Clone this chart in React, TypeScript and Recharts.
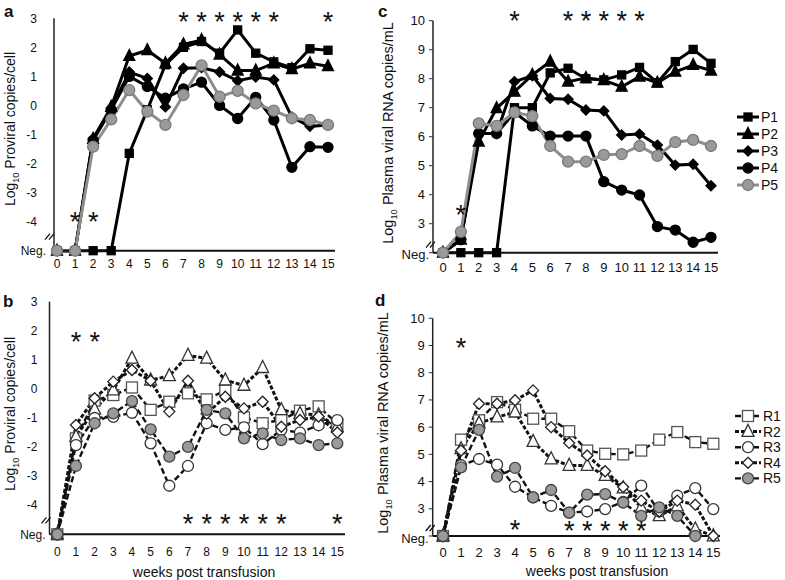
import React from "react";
import { ComposedChart, Line, XAxis, YAxis, ReferenceDot } from "recharts";

const FONT = '"Liberation Sans", Arial, Helvetica, sans-serif';

const WEEKS = [0, 1, 2, 3, 4, 5, 6, 7, 8, 9, 10, 11, 12, 13, 14, 15];
const NEG_PRO = -5; // where "Neg." sits on the proviral axes
const NEG_RNA = 2; // where "Neg." sits on the plasma RNA axes
const PRO_TICKS = [-5, -4, -3, -2, -1, 0, 1, 2, 3];
const RNA_TICKS = [2, 3, 4, 5, 6, 7, 8, 9, 10];

const N = NEG_PRO;
const M = NEG_RNA;

// panel a: proviral load, P animals
const P1_PRO = [N, N, N, N, -1.65, -0.15, 1.4, 2.0, 2.2, 1.8, 2.6, 1.8, 1.5, 1.3, 1.95, 1.9];
const P2_PRO = [N, N, -1.15, -0.05, 1.7, 1.9, 1.45, 2.1, 2.25, 1.75, 1.2, 1.2, 1.45, 1.25, 1.45, 1.35];
const P3_PRO = [N, N, -1.15, -0.1, 1.15, 0.93, -0.05, 1.28, 1.3, 1.15, 0.85, 0.98, 0.88, -0.4, -0.72, -0.67];
const P4_PRO = [N, N, -1.2, -0.15, 1.0, 0.65, 0.25, 0.57, 0.8, 0.0, -0.45, 0.28, -0.5, -2.13, -1.42, -1.44];
const P5_PRO = [N, N, -1.42, -0.48, 0.53, -0.21, -0.67, 0.36, 1.38, 0.3, 0.5, 0.07, -0.18, -0.44, -0.5, -0.67];

// panel c: plasma viral RNA, P animals
const P1_RNA = [M, M, M, M, 7.0, 7.0, 8.2, 8.36, 8.0, 7.96, 8.13, 8.39, 7.86, 8.59, 9.01, 8.53];
const P2_RNA = [M, 2.45, 5.83, 6.98, 7.55, 8.13, 8.59, 7.9, 8.02, 7.95, 7.72, 8.07, 7.86, 8.24, 8.47, 8.28];
const P3_RNA = [M, 2.45, 6.11, 6.11, 7.9, 8.1, 7.32, 7.29, 6.92, 6.89, 6.06, 6.09, 5.71, 5.02, 5.05, 4.31];
const P4_RNA = [M, 2.45, 6.11, 6.11, 6.84, 6.37, 6.02, 6.02, 6.02, 4.45, 4.16, 3.99, 2.9, 2.78, 2.36, 2.53];
const P5_RNA = [M, 2.72, 6.46, 6.37, 6.84, 6.71, 5.68, 5.14, 5.14, 5.37, 5.4, 5.68, 5.34, 5.81, 5.89, 5.68];

// panel b: proviral load, R animals
const R1_PRO = [N, -1.7, -0.4, -0.21, 0.05, -0.72, -0.44, -0.15, -0.36, -0.05, -0.98, -1.18, -1.07, -0.75, -0.6, -1.2];
const R2_PRO = [N, -1.64, -0.7, -0.04, 1.05, 0.3, 0.45, 1.15, 1.05, 0.3, 0.12, 0.73, -0.72, -0.85, -0.9, -1.3];
const R3_PRO = [N, -1.93, -1.0, -0.96, -0.82, -1.87, -3.33, -2.65, -1.18, -1.41, -1.32, -1.9, -1.41, -1.5, -1.25, -1.07];
const R4_PRO = [N, -1.24, -0.32, 0.25, 0.65, 0.28, -0.78, 0.28, -0.85, -0.27, -0.67, -0.44, -1.3, -1.07, -0.95, -1.5];
const R5_PRO = [N, -2.65, -1.18, -0.84, -0.42, -1.39, -2.33, -1.99, -0.72, -0.84, -1.7, -1.53, -1.76, -1.7, -1.93, -1.87];

// panel d: plasma viral RNA, R animals
const R1_RNA = [M, 5.54, 6.25, 6.92, 6.64, 6.31, 6.31, 5.85, 5.14, 5.02, 5.0, 5.14, 5.54, 5.82, 5.45, 5.39];
const R2_RNA = [M, 5.2, 6.15, 6.37, 6.55, 5.47, 4.83, 4.59, 4.59, 4.22, 3.76, 3.05, 2.74, 3.1, 2.25, M];
const R3_RNA = [M, 4.6, 4.83, 4.62, 3.81, 3.42, 3.11, 2.86, 2.9, 2.99, 3.25, 3.85, 2.9, 3.48, 3.76, 2.99];
const R4_RNA = [M, 5.14, 6.86, 6.86, 6.99, 7.35, 6.0, 5.42, 4.96, 4.38, 3.8, 3.3, 2.9, 3.3, 3.15, M];
const R5_RNA = [M, 4.52, 5.9, 4.18, 4.5, 3.42, 3.69, 2.86, 3.52, 3.54, 3.23, 2.74, 3.05, 2.74, M, null];

// significance asterisks: [week, height on the panel's axis]
const STARS_A: [number, number][] = [[1, -3.82], [2, -3.82], [7, 3.08], [8, 3.08], [9, 3.08], [10, 3.08], [11, 3.08], [12, 3.08], [15, 3.08]];
const STARS_C: [number, number][] = [[1, 3.5], [4, 10.2], [7, 10.2], [8, 10.2], [9, 10.2], [10, 10.2], [11, 10.2]];
const STARS_B: [number, number][] = [[1, 1.8], [2, 1.8], [7, -4.45], [8, -4.45], [9, -4.45], [10, -4.45], [11, -4.45], [12, -4.45], [15, -4.45]];
const STARS_D: [number, number][] = [[1, 9.14], [4, 2.44], [7, 2.4], [8, 2.4], [9, 2.4], [10, 2.4], [11, 2.4]];

type Shape = "square" | "triangle" | "diamond" | "circle";
type SeriesStyle = {
  name: string;
  shape: Shape;
  size: number;
  fill: string;
  stroke: string;
  line: string;
  width: number;
  dash?: string;
};

const P_STYLES: SeriesStyle[] = [
  { name: "P1", shape: "square", size: 8, fill: "#000", stroke: "#000", line: "#000", width: 3 },
  { name: "P2", shape: "triangle", size: 11, fill: "#000", stroke: "#000", line: "#000", width: 3 },
  { name: "P3", shape: "diamond", size: 10, fill: "#000", stroke: "#000", line: "#000", width: 3 },
  { name: "P4", shape: "circle", size: 10, fill: "#000", stroke: "#000", line: "#000", width: 3 },
  { name: "P5", shape: "circle", size: 11, fill: "#9a9a9a", stroke: "#7a7a7a", line: "#8e8e8e", width: 3 },
];

const R_STYLES: SeriesStyle[] = [
  { name: "R1", shape: "square", size: 11, fill: "#fff", stroke: "#555", line: "#111", width: 2.4, dash: "6 3" },
  { name: "R2", shape: "triangle", size: 12, fill: "#fff", stroke: "#333", line: "#111", width: 3, dash: "4 2" },
  { name: "R3", shape: "circle", size: 11, fill: "#fff", stroke: "#333", line: "#111", width: 2.4, dash: "6 3" },
  { name: "R4", shape: "diamond", size: 11, fill: "#fff", stroke: "#222", line: "#111", width: 3, dash: "4 2" },
  { name: "R5", shape: "circle", size: 11, fill: "#9a9a9a", stroke: "#444", line: "#111", width: 2.4, dash: "6 3" },
];

function buildRows(series: (number | null)[][]) {
  return WEEKS.map((w, i) => {
    const row: Record<string, number | null> = { w };
    series.forEach((s, k) => {
      row["s" + k] = s[i];
    });
    return row;
  });
}

function Marker({ cx, cy, st }: { cx: number; cy: number; st: SeriesStyle }) {
  const s = st.size;
  const common = { fill: st.fill, stroke: st.stroke, strokeWidth: 1.3 };
  if (st.shape === "square") return <rect x={cx - s / 2} y={cy - s / 2} width={s} height={s} {...common} />;
  if (st.shape === "triangle")
    return (
      <polygon
        points={`${cx},${cy - s * 0.6} ${cx - s / 2},${cy + s * 0.4} ${cx + s / 2},${cy + s * 0.4}`}
        {...common}
      />
    );
  if (st.shape === "diamond")
    return <polygon points={`${cx},${cy - s / 2} ${cx + s / 2},${cy} ${cx},${cy + s / 2} ${cx - s / 2},${cy}`} {...common} />;
  return <circle cx={cx} cy={cy} r={s / 2} {...common} />;
}

type PanelProps = {
  left: number;
  top: number;
  width: number;
  height: number;
  axisX: number;
  plotTop: number;
  plotBottom: number;
  plotRight: number;
  x0: number;
  x15: number;
  neg: number;
  yTicks: number[];
  series: (number | null)[][];
  styles: SeriesStyle[];
  stars: [number, number][];
  tickFont: number;
  xTickMargin: number;
  yTickSize: number;
  numGap: number;
  negGap: number;
  negDy: number;
  breakUp: number;
  breakShift: number;
};

const STAR_SIZE = 27;

function Panel(p: PanelProps) {
  const rows = buildRows(p.series);
  const perWeek = (p.x15 - p.x0) / 15;
  const xDomain = [(p.axisX - p.x0) / perWeek, 15 + (p.plotRight - p.x15) / perWeek];
  const yAxisWidth = p.axisX - p.left;
  const mTop = p.plotTop - p.top;
  const mRight = p.left + p.width - p.plotRight;
  const xAxisHeight = p.top + p.height - p.plotBottom;

  const yTick = (t: any) => {
    const v = t.payload.value;
    const axisX = t.x + p.yTickSize;
    if (v === p.neg) {
      const by = t.y - p.breakUp;
      const bx = axisX + p.breakShift;
      return (
        <g>
          <text x={t.x - p.negGap} y={t.y + p.negDy} dy="0.35em" textAnchor="end" fontSize={p.tickFont} fontFamily={FONT} fill="#111">
            Neg.
          </text>
          <line x1={bx - 7} y1={by + 3} x2={bx - 2} y2={by - 3} stroke="#111" strokeWidth={1.3} />
          <line x1={bx - 3} y1={by + 3} x2={bx + 2} y2={by - 3} stroke="#111" strokeWidth={1.3} />
        </g>
      );
    }
    return (
      <text x={t.x - p.numGap} y={t.y} dy="0.35em" textAnchor="end" fontSize={p.tickFont} fontFamily={FONT} fill="#111">
        {v}
      </text>
    );
  };

  return (
    <div style={{ position: "absolute", left: p.left, top: p.top }}>
      <ComposedChart
        width={p.width}
        height={p.height}
        data={rows}
        margin={{ top: mTop, right: mRight, left: 0, bottom: 0 }}
      >
        <XAxis
          dataKey="w"
          type="number"
          domain={xDomain}
          ticks={WEEKS}
          interval={0}
          height={xAxisHeight}
          tickLine={false}
          tickSize={0}
          tickMargin={p.xTickMargin}
          axisLine={{ stroke: "#111", strokeWidth: 2 }}
          tick={{ fontSize: p.tickFont, fontFamily: FONT, fill: "#111" }}
        />
        <YAxis
          type="number"
          domain={[p.yTicks[0], p.yTicks[p.yTicks.length - 1]]}
          ticks={p.yTicks}
          interval={0}
          width={yAxisWidth}
          tickSize={p.yTickSize}
          tickMargin={0}
          tickLine={p.yTickSize > 0 ? { stroke: "#333", strokeWidth: 1 } : false}
          axisLine={{ stroke: "#222", strokeWidth: 1.5 }}
          tick={yTick}
        />
        {p.styles.map((st, k) => (
          <Line
            key={st.name}
            dataKey={"s" + k}
            name={st.name}
            type="linear"
            stroke={st.line}
            strokeWidth={st.width}
            strokeDasharray={st.dash}
            connectNulls={false}
            isAnimationActive={false}
            activeDot={false}
            dot={(d: any) =>
              d.cx == null || d.cy == null || d.value == null ? (
                <g key={st.name + d.index} />
              ) : (
                <g key={st.name + d.index}>
                  <Marker cx={d.cx} cy={d.cy} st={st} />
                </g>
              )
            }
          />
        ))}
        {p.stars.map(([w, v], i) => (
          <ReferenceDot
            key={"star" + i}
            x={w}
            y={v}
            r={0}
            ifOverflow="visible"
            shape={(d: any) => (
              <text x={d.cx} y={d.cy + STAR_SIZE * 0.55} textAnchor="middle" fontSize={STAR_SIZE} fontFamily={FONT} fill="#111">
                *
              </text>
            )}
          />
        ))}
      </ComposedChart>
    </div>
  );
}

function Legend({ left, top, gap, styles, lineW }: { left: number; top: number; gap: number; styles: SeriesStyle[]; lineW: number }) {
  return (
    <svg style={{ position: "absolute", left, top }} width={60} height={gap * styles.length + 10}>
      {styles.map((st, i) => {
        const y = 8 + i * gap;
        return (
          <g key={st.name}>
            <line x1={2} x2={2 + lineW} y1={y} y2={y} stroke={st.line} strokeWidth={st.width} strokeDasharray={st.dash} />
            <Marker cx={2 + lineW / 2} cy={y} st={st} />
            <text x={lineW + 4} y={y} dy="0.35em" fontSize={14} fontFamily={FONT} fill="#111">
              {st.name}
            </text>
          </g>
        );
      })}
    </svg>
  );
}

function YTitle({ x, y, rest, size }: { x: number; y: number; rest: string; size: number }) {
  return (
    <text transform={`translate(${x},${y}) rotate(-90)`} textAnchor="middle" fontSize={size} fontFamily={FONT} fill="#111">
      Log
      <tspan fontSize={size * 0.65} dy={4}>
        10
      </tspan>
      <tspan dy={-4}>{rest}</tspan>
    </text>
  );
}

export default function App() {
  return (
    <div style={{ position: "absolute", left: 0, top: 0, width: 785, height: 580, background: "#fff", fontFamily: FONT }}>
      <Panel
        left={0} top={0} width={345} height={290}
        axisX={54} plotTop={18.3} plotBottom={250.7} plotRight={335} x0={57} x15={328}
        neg={NEG_PRO} yTicks={PRO_TICKS}
        series={[P1_PRO, P2_PRO, P3_PRO, P4_PRO, P5_PRO]} styles={P_STYLES} stars={STARS_A}
        tickFont={12} xTickMargin={8.4} yTickSize={0} numGap={17} negGap={8} negDy={0} breakUp={14} breakShift={-2}
      />
      <Panel
        left={380} top={0} width={348} height={290}
        axisX={433} plotTop={20.7} plotBottom={252.7} plotRight={718} x0={443} x15={711}
        neg={NEG_RNA} yTicks={RNA_TICKS}
        series={[P1_RNA, P2_RNA, P3_RNA, P4_RNA, P5_RNA]} styles={P_STYLES} stars={STARS_C}
        tickFont={13} xTickMargin={9.8} yTickSize={4} numGap={4} negGap={0} negDy={2} breakUp={8} breakShift={0}
      />
      <Panel
        left={0} top={290} width={355} height={290}
        axisX={49.5} plotTop={301.7} plotBottom={534.3} plotRight={345} x0={57.3} x15={337.3}
        neg={NEG_PRO} yTicks={PRO_TICKS}
        series={[R1_PRO, R2_PRO, R3_PRO, R4_PRO, R5_PRO]} styles={R_STYLES} stars={STARS_B}
        tickFont={12} xTickMargin={13} yTickSize={0} numGap={12} negGap={4} negDy={0} breakUp={14} breakShift={-1}
      />
      <Panel
        left={380} top={290} width={350} height={290}
        axisX={432.7} plotTop={318.3} plotBottom={536} plotRight={720} x0={443} x15={713.3}
        neg={NEG_RNA} yTicks={RNA_TICKS}
        series={[R1_RNA, R2_RNA, R3_RNA, R4_RNA, R5_RNA]} styles={R_STYLES} stars={STARS_D}
        tickFont={13} xTickMargin={11.5} yTickSize={4} numGap={4} negGap={0} negDy={2} breakUp={8} breakShift={0}
      />
      <Legend left={735} top={109} gap={17} styles={P_STYLES} lineW={22} />
      <Legend left={733} top={408} gap={15.6} styles={R_STYLES} lineW={26} />
      <svg style={{ position: "absolute", left: 0, top: 0, pointerEvents: "none" }} width={785} height={580}>
        <text x={4} y={17} fontSize={17} fontWeight="bold" fontFamily={FONT} fill="#111">a</text>
        <text x={378} y={17} fontSize={17} fontWeight="bold" fontFamily={FONT} fill="#111">c</text>
        <text x={3} y={307} fontSize={17} fontWeight="bold" fontFamily={FONT} fill="#111">b</text>
        <text x={375} y={306} fontSize={17} fontWeight="bold" fontFamily={FONT} fill="#111">d</text>
        <YTitle x={15} y={129} rest=" Proviral copies/cell" size={14} />
        <YTitle x={393} y={133} rest=" Plasma viral RNA copies/mL" size={14.5} />
        <YTitle x={15} y={414} rest=" Proviral copies/cell" size={14} />
        <YTitle x={388} y={423} rest=" Plasma viral RNA copies/mL" size={14.5} />
        <text x={204} y={577} textAnchor="middle" fontSize={14} fontFamily={FONT} fill="#111">weeks post transfusion</text>
        <text x={597} y={576} textAnchor="middle" fontSize={14} fontFamily={FONT} fill="#111">weeks post transfusion</text>
      </svg>
    </div>
  );
}
